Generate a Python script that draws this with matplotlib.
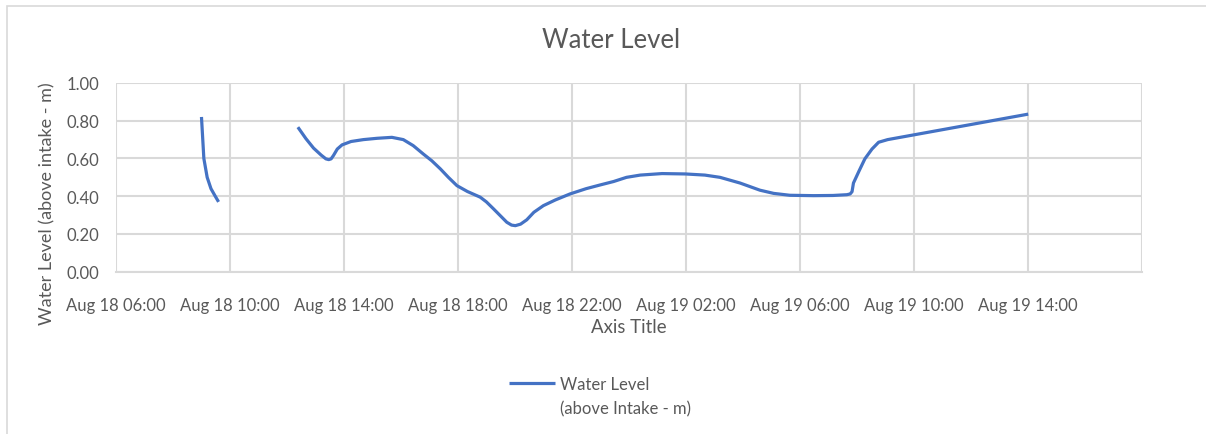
import numpy as np
import pandas as pd
import matplotlib
matplotlib.use("Agg")
import matplotlib.pyplot as plt
import matplotlib.dates as mdates
from matplotlib.patches import Rectangle

plt.rcParams['font.family'] = ['Lato', 'DejaVu Sans']

# readings (two logged runs, gap between them)
times = [
    "2023-08-18 09:00", "2023-08-18 09:05", "2023-08-18 09:12", "2023-08-18 09:20",
    "2023-08-18 09:29", "2023-08-18 09:36",
    None,
    "2023-08-18 12:23", "2023-08-18 12:40", "2023-08-18 12:56", "2023-08-18 13:12",
    "2023-08-18 13:22", "2023-08-18 13:28", "2023-08-18 13:33", "2023-08-18 13:38",
    "2023-08-18 13:46", "2023-08-18 13:56", "2023-08-18 14:15", "2023-08-18 14:41",
    "2023-08-18 15:10", "2023-08-18 15:41", "2023-08-18 16:05", "2023-08-18 16:26",
    "2023-08-18 16:47", "2023-08-18 17:05", "2023-08-18 17:23", "2023-08-18 17:40",
    "2023-08-18 17:58", "2023-08-18 18:20", "2023-08-18 18:47", "2023-08-18 19:00",
    "2023-08-18 19:15", "2023-08-18 19:30", "2023-08-18 19:43", "2023-08-18 19:53",
    "2023-08-18 20:01", "2023-08-18 20:12", "2023-08-18 20:25", "2023-08-18 20:40",
    "2023-08-18 21:00", "2023-08-18 21:25", "2023-08-18 21:56", "2023-08-18 22:30",
    "2023-08-18 23:00", "2023-08-18 23:28", "2023-08-18 23:55", "2023-08-19 00:24",
    "2023-08-19 01:10", "2023-08-19 01:59", "2023-08-19 02:40", "2023-08-19 03:12",
    "2023-08-19 03:54", "2023-08-19 04:36", "2023-08-19 05:05", "2023-08-19 05:39",
    "2023-08-19 06:29", "2023-08-19 07:10", "2023-08-19 07:39", "2023-08-19 07:46",
    "2023-08-19 07:50", "2023-08-19 07:53", "2023-08-19 08:05", "2023-08-19 08:17",
    "2023-08-19 08:32", "2023-08-19 08:46", "2023-08-19 09:05", "2023-08-19 14:01",
]
level = [
    0.82, 0.60, 0.50, 0.44, 0.40, 0.37,
    np.nan,
    0.766, 0.705, 0.655, 0.618,
    0.598, 0.594, 0.598, 0.616,
    0.650, 0.672, 0.690, 0.700,
    0.707, 0.712, 0.700, 0.668,
    0.624, 0.588, 0.545, 0.500,
    0.456, 0.425, 0.395, 0.370,
    0.333, 0.295, 0.262, 0.247,
    0.244, 0.252, 0.275, 0.315,
    0.350, 0.380, 0.412, 0.440,
    0.460, 0.478, 0.500, 0.512,
    0.520, 0.518, 0.512, 0.500,
    0.470, 0.432, 0.415, 0.405,
    0.403, 0.404, 0.408, 0.412,
    0.424, 0.470, 0.535, 0.598,
    0.650, 0.686, 0.700, 0.835,
]
yticks = [0.0, 0.2, 0.4, 0.6, 0.8, 1.0]

t = pd.to_datetime([x if x else "2023-08-18 11:00" for x in times])

grey_txt = '#595959'
grid_c = '#d9d9d9'
blue = '#4472c4'

fig = plt.figure(figsize=(12.06, 4.35), dpi=100)
ax = fig.add_axes([116 / 1206, 1 - 272.7 / 435, (1141.7 - 116) / 1206, (272.7 - 84) / 435])

ax.plot(t, level, color=blue, lw=2.3, solid_capstyle='butt', solid_joinstyle='round',
        label='Water Level')

ax.set_xlim(pd.Timestamp("2023-08-18 06:00"), pd.Timestamp("2023-08-19 18:00"))
ax.set_ylim(0, 1.0)
ax.set_yticks(yticks)
ax.yaxis.set_major_formatter(matplotlib.ticker.FormatStrFormatter('%.2f'))
ax.xaxis.set_major_locator(mdates.HourLocator(byhour=[2, 6, 10, 14, 18, 22]))
ax.xaxis.set_major_formatter(mdates.DateFormatter('%b %d %H:%M'))

ax.grid(True, color=grid_c, lw=1.5)
ax.set_axisbelow(True)
for s in ['left', 'right', 'top']:
    ax.spines[s].set_visible(False)
ax.spines['bottom'].set_color(grid_c)
ax.spines['bottom'].set_linewidth(1.5)
ax.tick_params(length=0, colors=grey_txt, labelsize=12)
ax.tick_params(axis='x', pad=18)
ax.tick_params(axis='y', pad=12)

fig.canvas.draw()
for lab in ax.get_xticklabels():
    if lab.get_text() == 'Aug 19 18:00':
        lab.set_visible(False)

fig.text(611 / 1206, 1 - 40 / 435, 'Water Level', ha='center', va='center',
         fontsize=18.5, color=grey_txt)
fig.text(47 / 1206, 1 - 204 / 435, 'Water Level (above intake - m)', ha='center',
         va='center', rotation=90, fontsize=13, color=grey_txt)
fig.text(629 / 1206, 1 - 328 / 435, 'Axis Title', ha='center', va='center',
         fontsize=13.4, color=grey_txt)

leg = fig.legend(loc='center left', bbox_to_anchor=(509 / 1206, 1 - 385 / 435),
                 frameon=False, fontsize=12, handlelength=2.75, handletextpad=0.3,
                 borderpad=0, borderaxespad=0)
for txt in leg.get_texts():
    txt.set_color(grey_txt)
fig.canvas.draw()
bb = leg.get_texts()[0].get_window_extent()
fig.text(bb.x0 / fig.bbox.width, 1 - 409 / 435, '(above Intake - m)', ha='left',
         va='center', fontsize=12, color=grey_txt)

# chart frame
fig.add_artist(Rectangle((6.5 / 1206, -0.1), 1.2, 1 - 6.5 / 435 + 0.1, transform=fig.transFigure,
                         fill=False, edgecolor='#d9d9d9', lw=1.2))

fig.savefig('out.png', dpi=100)
